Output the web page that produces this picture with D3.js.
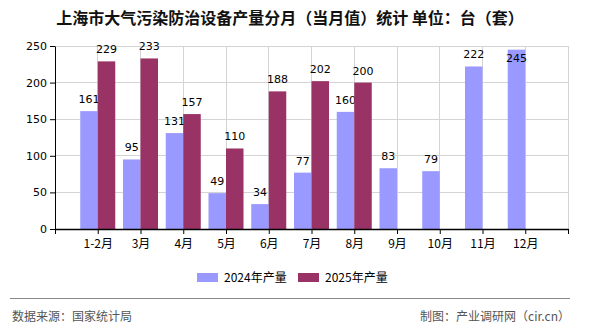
<!DOCTYPE html>
<html><head><meta charset="utf-8">
<script src="https://cdn.jsdelivr.net/npm/d3@7"></script>
<style>body{margin:0;background:#fff;} svg{display:block;font-family:"DejaVu Sans","Noto Sans CJK SC",sans-serif;}</style>
</head><body>
<svg id="c" width="590" height="330"></svg>
<script>
const categories = ["1-2月","3月","4月","5月","6月","7月","8月","9月","10月","11月","12月"];
const values2024 = [161,95,131,49,34,77,160,83,79,222,245];
const values2025 = [229,233,157,110,188,202,200,null,null,null,null];
const yTicks = [0,50,100,150,200,250];
const seriesNames = ["2024年产量","2025年产量"];
const colors = ["#9999ff","#993366"];

const svg = d3.select("#c");
const L = 55, R = 568, T = 46, B = 229;
const x = d3.scaleLinear().domain([0, categories.length + 1]).range([L, R]);
const y = d3.scaleLinear().domain([0, 250]).range([B, T]);
const bw = 17.5;
const cjk = '"Noto Sans CJK SC",sans-serif';

svg.append("text").attr("x", 290).attr("y", 24).attr("text-anchor","middle")
  .attr("font-size", 16).attr("font-weight","bold").attr("font-family", cjk).attr("fill","#111")
  .style("white-space","pre")
  .text("上海市大气污染防治设备产量分月（当月值）统计 单位：台（套）");

// grid
const g = svg.append("g");
g.selectAll(".hg").data(yTicks.filter(d=>d>0)).enter().append("line")
  .attr("x1", L).attr("x2", R).attr("y1", d=>y(d)).attr("y2", d=>y(d))
  .attr("stroke","#d4d4d4").attr("stroke-width",1).attr("shape-rendering","crispEdges");
g.selectAll(".vg").data(d3.range(1, categories.length + 2)).enter().append("line")
  .attr("x1", d=>x(d)).attr("x2", d=>x(d)).attr("y1", T).attr("y2", B)
  .attr("stroke","#d4d4d4").attr("stroke-width",1).attr("shape-rendering","crispEdges");

// bars
const series = [values2024, values2025];
series.forEach((vals, si) => {
  const data = vals.map((v,i)=>({v,i})).filter(d=>d.v!=null);
  svg.append("g").selectAll("rect").data(data).enter().append("rect")
    .attr("x", d => x(d.i + 1) + (si === 0 ? -bw : 0))
    .attr("width", bw)
    .attr("y", d => y(d.v)).attr("height", d => B - y(d.v))
    .attr("fill", colors[si]);
  svg.append("g").selectAll("text").data(data).enter().append("text")
    .attr("x", d => x(d.i + 1) + (si === 0 ? -bw/2 : bw/2))
    .attr("y", d => (y(d.v) - 17 < 38) ? y(d.v) + 12 : y(d.v) - 8)
    .attr("text-anchor","middle").attr("font-size", 11).attr("fill","#000")
    .text(d => d.v);
});

// y axis
const ya = svg.append("g").attr("transform", `translate(${L},0)`)
  .call(d3.axisLeft(y).tickValues(yTicks).tickSize(5).tickSizeOuter(0));
ya.select(".domain").attr("stroke","#000");
ya.selectAll("line").attr("stroke","#000");
ya.selectAll("text").attr("font-size", 11).attr("fill","#000").attr("font-family","DejaVu Sans,sans-serif");

// x axis
const xa = svg.append("g").attr("transform", `translate(0,${B})`)
  .call(d3.axisBottom(x).tickValues(d3.range(0, categories.length + 2)).tickSize(5).tickSizeOuter(0)
    .tickFormat(d => (d >= 1 && d <= categories.length) ? categories[d-1] : ""));
xa.select(".domain").attr("stroke","#000").attr("stroke-width",1.5);
xa.selectAll("line").attr("stroke","#000");
xa.selectAll("text").attr("font-size", 12).attr("fill","#000").attr("font-family", cjk).attr("dy","0.95em");

// legend
const lg = svg.append("g");
const lx = [197, 298];
seriesNames.forEach((n, i) => {
  lg.append("rect").attr("x", lx[i]).attr("y", 273).attr("width", 21).attr("height", 9).attr("fill", colors[i]);
  lg.append("text").attr("x", lx[i] + 27).attr("y", 282).attr("font-size", 12).attr("font-family", cjk).attr("fill","#000").text(n);
});

// footer
svg.append("line").attr("x1", 10).attr("x2", 570).attr("y1", 298.5).attr("y2", 298.5).attr("stroke","#888").attr("stroke-width",1);
svg.append("text").attr("x", 12).attr("y", 321).attr("font-size", 12).attr("font-family", cjk).attr("fill","#555").text("数据来源：国家统计局");
svg.append("text").attr("x", 570).attr("y", 321).attr("text-anchor","end").attr("font-size", 12).attr("font-family", cjk).attr("fill","#555").text("制图：产业调研网（cir.cn）");
</script>
</body></html>
